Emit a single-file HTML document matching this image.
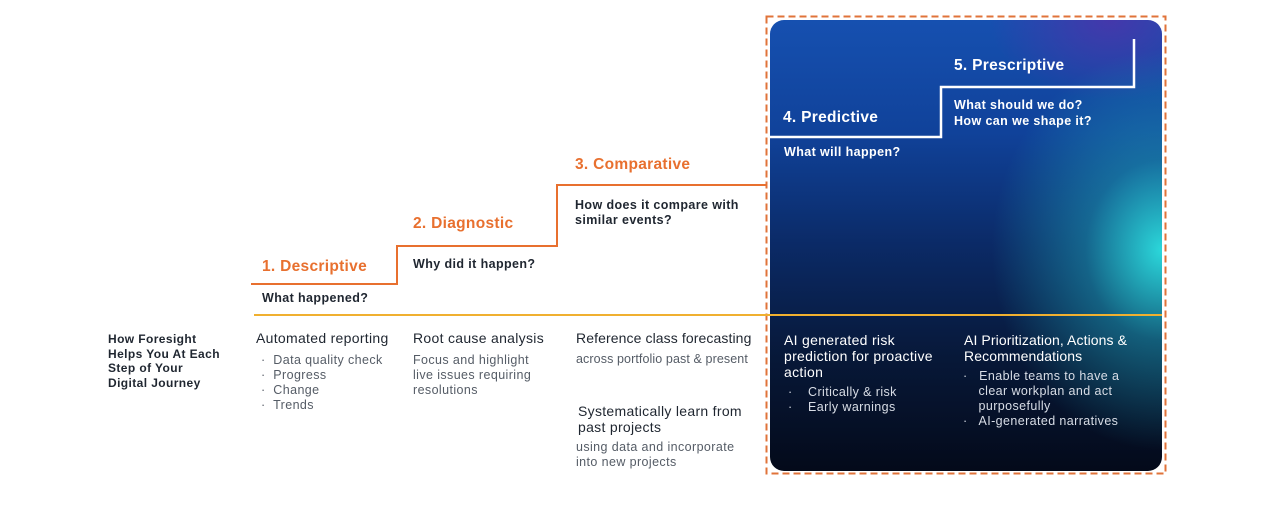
<!DOCTYPE html>
<html><head><style>
body{margin:0;width:1280px;height:513px;background:#fff;position:relative;overflow:hidden;font-family:"Liberation Sans",sans-serif;}
.t{position:absolute;white-space:nowrap;line-height:1;}
.h{color:#e8702f;font-weight:bold;font-size:15.5px;letter-spacing:.3px;}
.q{color:#1f2630;font-weight:bold;font-size:12.5px;letter-spacing:.4px;}
.b{color:#1f2630;font-size:14px;letter-spacing:.3px;}
.g{color:#555c66;font-size:12.5px;letter-spacing:.4px;}
.w{color:#fff;}
.card{position:absolute;left:770px;top:20px;width:392px;height:451px;border-radius:14px;
background:
radial-gradient(ellipse 170px 200px at 392px 230px,rgba(45,225,225,.95),rgba(30,160,180,.5) 45%,rgba(20,80,130,0) 100%),
radial-gradient(ellipse 120px 80px at 340px 0px,rgba(80,50,170,.8),rgba(80,50,170,0)),
linear-gradient(180deg,#1650b0 0%,#10429a 25%,#0b2a66 50%,#071838 75%,#040a1a 100%);}
</style></head><body>
<div class="card"></div>
<svg width="1280" height="513" style="position:absolute;left:0;top:0">
<rect x="766.5" y="16.5" width="399" height="457" fill="none" stroke="#e0733a" stroke-width="2" stroke-dasharray="7,4"/>
<polyline points="251,284 397,284 397,246 557,246 557,185 767,185" fill="none" stroke="#e8702f" stroke-width="2"/>
<line x1="254" y1="315" x2="1162" y2="315" stroke="#f0b030" stroke-width="2"/>
<polyline points="770,137 941,137 941,87 1134,87 1134,39" fill="none" stroke="#fff" stroke-width="2.5"/>
</svg>
<div class="t h" style="left:262px;top:259px">1. Descriptive</div>
<div class="t q" style="left:262px;top:292px">What happened?</div>
<div class="t h" style="left:413px;top:216px">2. Diagnostic</div>
<div class="t q" style="left:413px;top:258px">Why did it happen?</div>
<div class="t h" style="left:575px;top:157px">3. Comparative</div>
<div class="t q" style="left:575px;top:198px;line-height:15px">How does it compare with<br>similar events?</div>
<div class="t h w" style="left:783px;top:110px">4. Predictive</div>
<div class="t q w" style="left:784px;top:146px">What will happen?</div>
<div class="t h w" style="left:954px;top:58px">5. Prescriptive</div>
<div class="t q w" style="left:954px;top:97px;line-height:16px">What should we do?<br>How can we shape it?</div>

<div class="t q" style="left:108px;top:332px;line-height:14.7px;font-size:12px;letter-spacing:.4px">How Foresight<br>Helps You At Each<br>Step of Your<br>Digital Journey</div>
<div class="t b" style="left:256px;top:331px">Automated reporting</div>
<div class="t g" style="left:261px;top:353px;line-height:15px">·&nbsp; Data quality check<br>·&nbsp; Progress<br>·&nbsp; Change<br>·&nbsp; Trends</div>
<div class="t b" style="left:413px;top:331px">Root cause analysis</div>
<div class="t g" style="left:413px;top:353px;line-height:15px">Focus and highlight<br>live issues requiring<br>resolutions</div>
<div class="t b" style="left:576px;top:331px;letter-spacing:.1px">Reference class forecasting</div>
<div class="t g" style="left:576px;top:353px;letter-spacing:.1px">across portfolio past &amp; present</div>
<div class="t b" style="left:578px;top:403px;line-height:16px">Systematically learn from<br>past projects</div>
<div class="t g" style="left:576px;top:440px;line-height:15px">using data and incorporate<br>into new projects</div>
<div class="t b w" style="left:784px;top:332px;line-height:16px">AI generated risk<br>prediction for proactive<br>action</div>
<div class="t g" style="left:788px;top:385px;line-height:15px;color:#d8dde6">·&nbsp;&nbsp;&nbsp; Critically &amp; risk<br>·&nbsp;&nbsp;&nbsp; Early warnings</div>
<div class="t b w" style="left:964px;top:332px;line-height:16px;letter-spacing:.1px">AI Prioritization, Actions &amp;<br>Recommendations</div>
<div class="t g" style="left:963px;top:369px;line-height:15px;color:#d8dde6">·&nbsp;&nbsp; Enable teams to have a<br>&nbsp;&nbsp;&nbsp; clear workplan and act<br>&nbsp;&nbsp;&nbsp; purposefully<br>·&nbsp;&nbsp; AI-generated narratives</div>
</body></html>
